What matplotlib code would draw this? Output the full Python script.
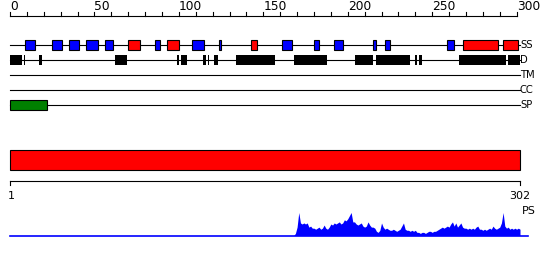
import matplotlib
matplotlib.use("Agg")
import matplotlib.pyplot as plt
from matplotlib.patches import Rectangle

# ---------------- data ----------------
seq_len = 302
scale_ticks = list(range(0, 301, 10))
scale_labels = [0, 50, 100, 150, 200, 250, 300]
track_names = ["SS", "D", "TM", "CC", "SP"]

# secondary structure: (start, end, kind)  kind: 'H' helix (red), 'E' strand (blue)
ss_start = [9, 25, 35, 45, 56, 70, 86, 93, 108, 124, 143, 161, 180, 192, 215, 222, 259, 268, 292]
ss_end = [15, 31, 41, 52, 61, 77, 89, 100, 115, 125, 146, 167, 183, 197, 217, 225, 263, 289, 301]
ss_kind = ["E", "E", "E", "E", "E", "H", "E", "H", "E", "E", "H", "E", "E", "E", "E", "E", "E", "H", "H"]

# disorder segments
d_start = [0, 8, 17, 62, 99, 101, 114, 117, 121, 134, 168, 204, 217, 240, 242, 266, 295]
d_end = [7, 9, 19, 69, 100, 105, 116, 118, 123, 157, 188, 215, 237, 241, 244, 294, 302]

# signal peptide
sp_start = [0]
sp_end = [22]

# domain bar
dom_start = [0]
dom_end = [302]

# profile (positions 168..302)
prof_start = 168
prof_vals = [0, 2, 8, 22, 12, 11, 12, 11, 12, 8, 9, 7, 7, 6, 7, 8, 6, 7, 10, 7,
             6, 8, 11, 10, 12, 11, 12, 13, 11, 12, 15, 14, 16, 19, 22, 13, 13, 11, 10, 11,
             12, 9, 8, 9, 13, 10, 8, 8, 7, 4, 3, 5, 12, 8, 6, 7, 6, 5, 5, 6,
             5, 4, 5, 6, 9, 12, 6, 5, 5, 4, 5, 4, 5, 3, 3, 2, 3, 3, 2, 3,
             4, 4, 3, 4, 4, 5, 6, 7, 8, 7, 8, 9, 8, 11, 13, 9, 12, 8, 10, 12,
             8, 7, 7, 6, 7, 6, 7, 6, 8, 9, 6, 6, 5, 6, 5, 6, 7, 6, 9, 7,
             6, 7, 8, 12, 22, 9, 7, 8, 6, 7, 6, 7, 6, 7, 6]

# ---------------- figure ----------------
W, H = 550, 260
fig = plt.figure(figsize=(W / 100, H / 100), dpi=100)
pxu = 510 / 302.0
x0 = -10 / pxu
x1 = (W - 10) / pxu

ax = fig.add_axes([0, 0, 1, 1])
ax.set_xlim(x0, x1)
ax.set_ylim(H, 0)
ax.axis("off")

lw = 0.8
fs_top = 8.8
fs_side = 7.2

# top scale
ax.plot([0, 300], [15.5, 15.5], color="black", lw=lw)
for t in scale_ticks:
    ax.plot([t, t], [12, 15.5], color="black", lw=lw)
for t in scale_labels:
    ax.text(t, 6.5, str(t), ha="left", va="center", fontsize=fs_top, color="black")

# track lines
track_y = [45, 60, 75, 90, 105]
for name, y in zip(track_names, track_y):
    ax.plot([0, seq_len], [y, y], color="black", lw=lw, zorder=1)
    ax.text(seq_len, y, name, ha="left", va="center", fontsize=fs_side, color="black")

# SS boxes
for s, e, k in zip(ss_start, ss_end, ss_kind):
    c = "#ff0000" if k == "H" else "#0000ff"
    ax.add_patch(Rectangle((s, 40), e - s, 10, facecolor=c, edgecolor="black", lw=lw, zorder=3))

# Disorder
for s, e in zip(d_start, d_end):
    ax.add_patch(Rectangle((s, 55), e - s, 10, facecolor="black", edgecolor="none", zorder=3))

# SP
for s, e in zip(sp_start, sp_end):
    ax.add_patch(Rectangle((s, 100), e - s, 10, facecolor="#008000", edgecolor="black", lw=lw, zorder=3))

# domain bar
for s, e in zip(dom_start, dom_end):
    ax.add_patch(Rectangle((s, 150), e - s, 20, facecolor="#ff0000", edgecolor="black", lw=lw, zorder=3))

# bottom scale
ax.plot([0, seq_len], [180.5, 180.5], color="black", lw=lw)
ax.plot([0, 0], [180.5, 185], color="black", lw=lw)
ax.plot([seq_len, seq_len], [180.5, 185], color="black", lw=lw)
ax.text(1, 196, "1", ha="center", va="center", fontsize=8)
ax.text(seq_len, 196, "302", ha="center", va="center", fontsize=8)
ax.text(seq_len + 1, 210.5, "PS", ha="left", va="center", fontsize=8)

# profile axes
base_px = 235.5
top_val = 22
top_px = 212.5
pax = fig.add_axes([0, (H - base_px) / H, 1, (base_px - top_px) / H])
pax.set_xlim(x0, x1)
pax.set_ylim(0, top_val)
pax.axis("off")
px_pos = list(range(prof_start, prof_start + len(prof_vals)))
pax.fill_between(px_pos, 0, prof_vals, color="#0000ff", lw=0)
pax.plot([0, 306.5], [0, 0], color="#0000ff", lw=1.2, clip_on=False)

fig.savefig("out.png", dpi=100)
